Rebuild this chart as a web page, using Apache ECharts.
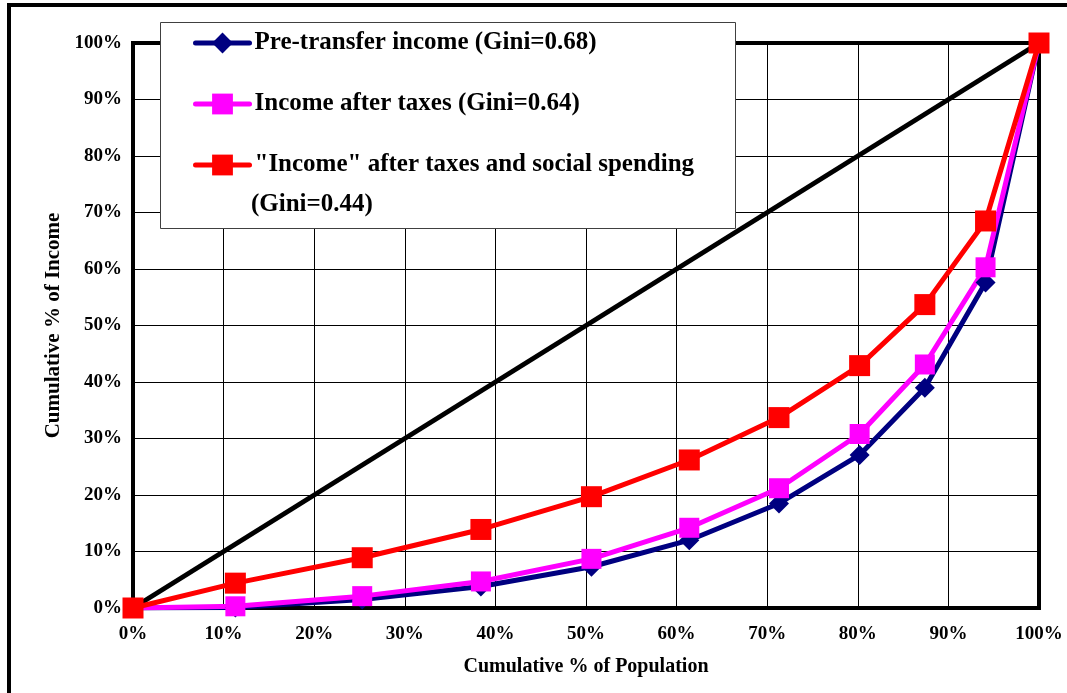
<!DOCTYPE html>
<html>
<head>
<meta charset="utf-8">
<style>
  html, body { margin: 0; padding: 0; background: #fff; }
  #chart { width: 1067px; height: 693px; }
</style>
<script src="https://cdn.jsdelivr.net/npm/echarts@6/dist/echarts.min.js"></script>
</head>
<body>
<div id="chart"></div>
<script>
  // cumulative % of population (x positions of the points)
  const popShare = [0, 11.3, 25.3, 38.4, 50.6, 61.4, 71.3, 80.2, 87.4, 94.1, 100];
  // cumulative % of income
  const preTransfer = [0, 0.1, 1.5, 3.8, 7.3, 12.0, 18.5, 27.1, 39.0, 57.6, 100];
  const afterTaxes = [0, 0.3, 2.1, 4.7, 8.7, 14.2, 21.2, 30.8, 43.1, 60.3, 100];
  const afterSpending = [0, 4.4, 8.9, 13.9, 19.7, 26.2, 33.7, 42.9, 53.7, 68.5, 100];
  // line of perfect equality
  const equalityX = [0, 100];
  const equalityY = [0, 100];

  const seriesNames = [
    'Pre-transfer income (Gini=0.68)',
    'Income after taxes (Gini=0.64)',
    '"Income" after taxes and social spending'
  ];
  const extraLegendLine = '(Gini=0.44)';

  const font = 'Liberation Serif';
  const pairs = (xs, ys) => xs.map((x, i) => [x, ys[i]]);

  const chart = echarts.init(document.getElementById('chart'));
  chart.setOption({
    animation: false,
    backgroundColor: '#fff',
    grid: {
      left: 133, right: 28, top: 43, bottom: 85,
      show: true,
      borderColor: '#000',
      borderWidth: 4
    },
    xAxis: {
      type: 'value',
      min: 0, max: 100, interval: 10,
      name: 'Cumulative % of Population',
      nameLocation: 'middle',
      nameGap: 49,
      nameTextStyle: { fontFamily: font, fontWeight: 'bold', fontSize: 20, color: '#000' },
      axisLine: { show: false },
      axisTick: { show: false },
      axisLabel: {
        formatter: '{value}%',
        margin: 17,
        fontFamily: font, fontWeight: 'bold', fontSize: 19, color: '#000'
      },
      splitLine: { lineStyle: { color: '#000', width: 1 } }
    },
    yAxis: {
      type: 'value',
      min: 0, max: 100, interval: 10,
      name: 'Cumulative % of Income',
      nameLocation: 'middle',
      nameGap: 69,
      nameTextStyle: { fontFamily: font, fontWeight: 'bold', fontSize: 21, color: '#000' },
      axisLine: { show: false },
      axisTick: { show: false },
      axisLabel: {
        formatter: '{value}%',
        margin: 11,
        fontFamily: font, fontWeight: 'bold', fontSize: 19, color: '#000'
      },
      splitLine: { lineStyle: { color: '#000', width: 1 } }
    },
    legend: {
      data: seriesNames,
      orient: 'vertical',
      left: 193,
      top: 30,
      padding: 0,
      itemWidth: 54,
      itemHeight: 26,
      itemGap: 35,
      lineStyle: { width: 5, cap: 'round' },
      textStyle: { fontFamily: font, fontWeight: 'bold', fontSize: 25, lineHeight: 26, color: '#000' }
    },
    graphic: [
      {
        type: 'rect',
        z: 3,
        shape: { x: 9, y: 5, width: 1200, height: 1000 },
        style: { fill: 'none', stroke: '#000', lineWidth: 4 }
      },
      {
        type: 'rect',
        z: 3,
        shape: { x: 160.5, y: 22.5, width: 575, height: 206 },
        style: { fill: '#fff', stroke: '#404040', lineWidth: 1 }
      },
      {
        type: 'text',
        z: 5,
        x: 251,
        y: 205,
        style: {
          text: extraLegendLine,
          fontFamily: font, fontWeight: 'bold', fontSize: 25,
          fill: '#000', verticalAlign: 'middle'
        }
      }
    ],
    series: [
      {
        name: 'equality',
        type: 'line',
        data: pairs(equalityX, equalityY),
        showSymbol: false,
        lineStyle: { color: '#000', width: 5 },
        itemStyle: { color: '#000' }
      },
      {
        name: seriesNames[0],
        type: 'line',
        data: pairs(popShare, preTransfer),
        symbol: 'diamond',
        symbolSize: 20,
        lineStyle: { color: '#000080', width: 5 },
        itemStyle: { color: '#000080' }
      },
      {
        name: seriesNames[1],
        type: 'line',
        data: pairs(popShare, afterTaxes),
        symbol: 'rect',
        symbolSize: 20,
        lineStyle: { color: '#ff00ff', width: 5 },
        itemStyle: { color: '#ff00ff' }
      },
      {
        name: seriesNames[2],
        type: 'line',
        data: pairs(popShare, afterSpending),
        symbol: 'rect',
        symbolSize: 21,
        lineStyle: { color: '#ff0000', width: 5 },
        itemStyle: { color: '#ff0000' }
      }
    ]
  });
</script>
</body>
</html>
